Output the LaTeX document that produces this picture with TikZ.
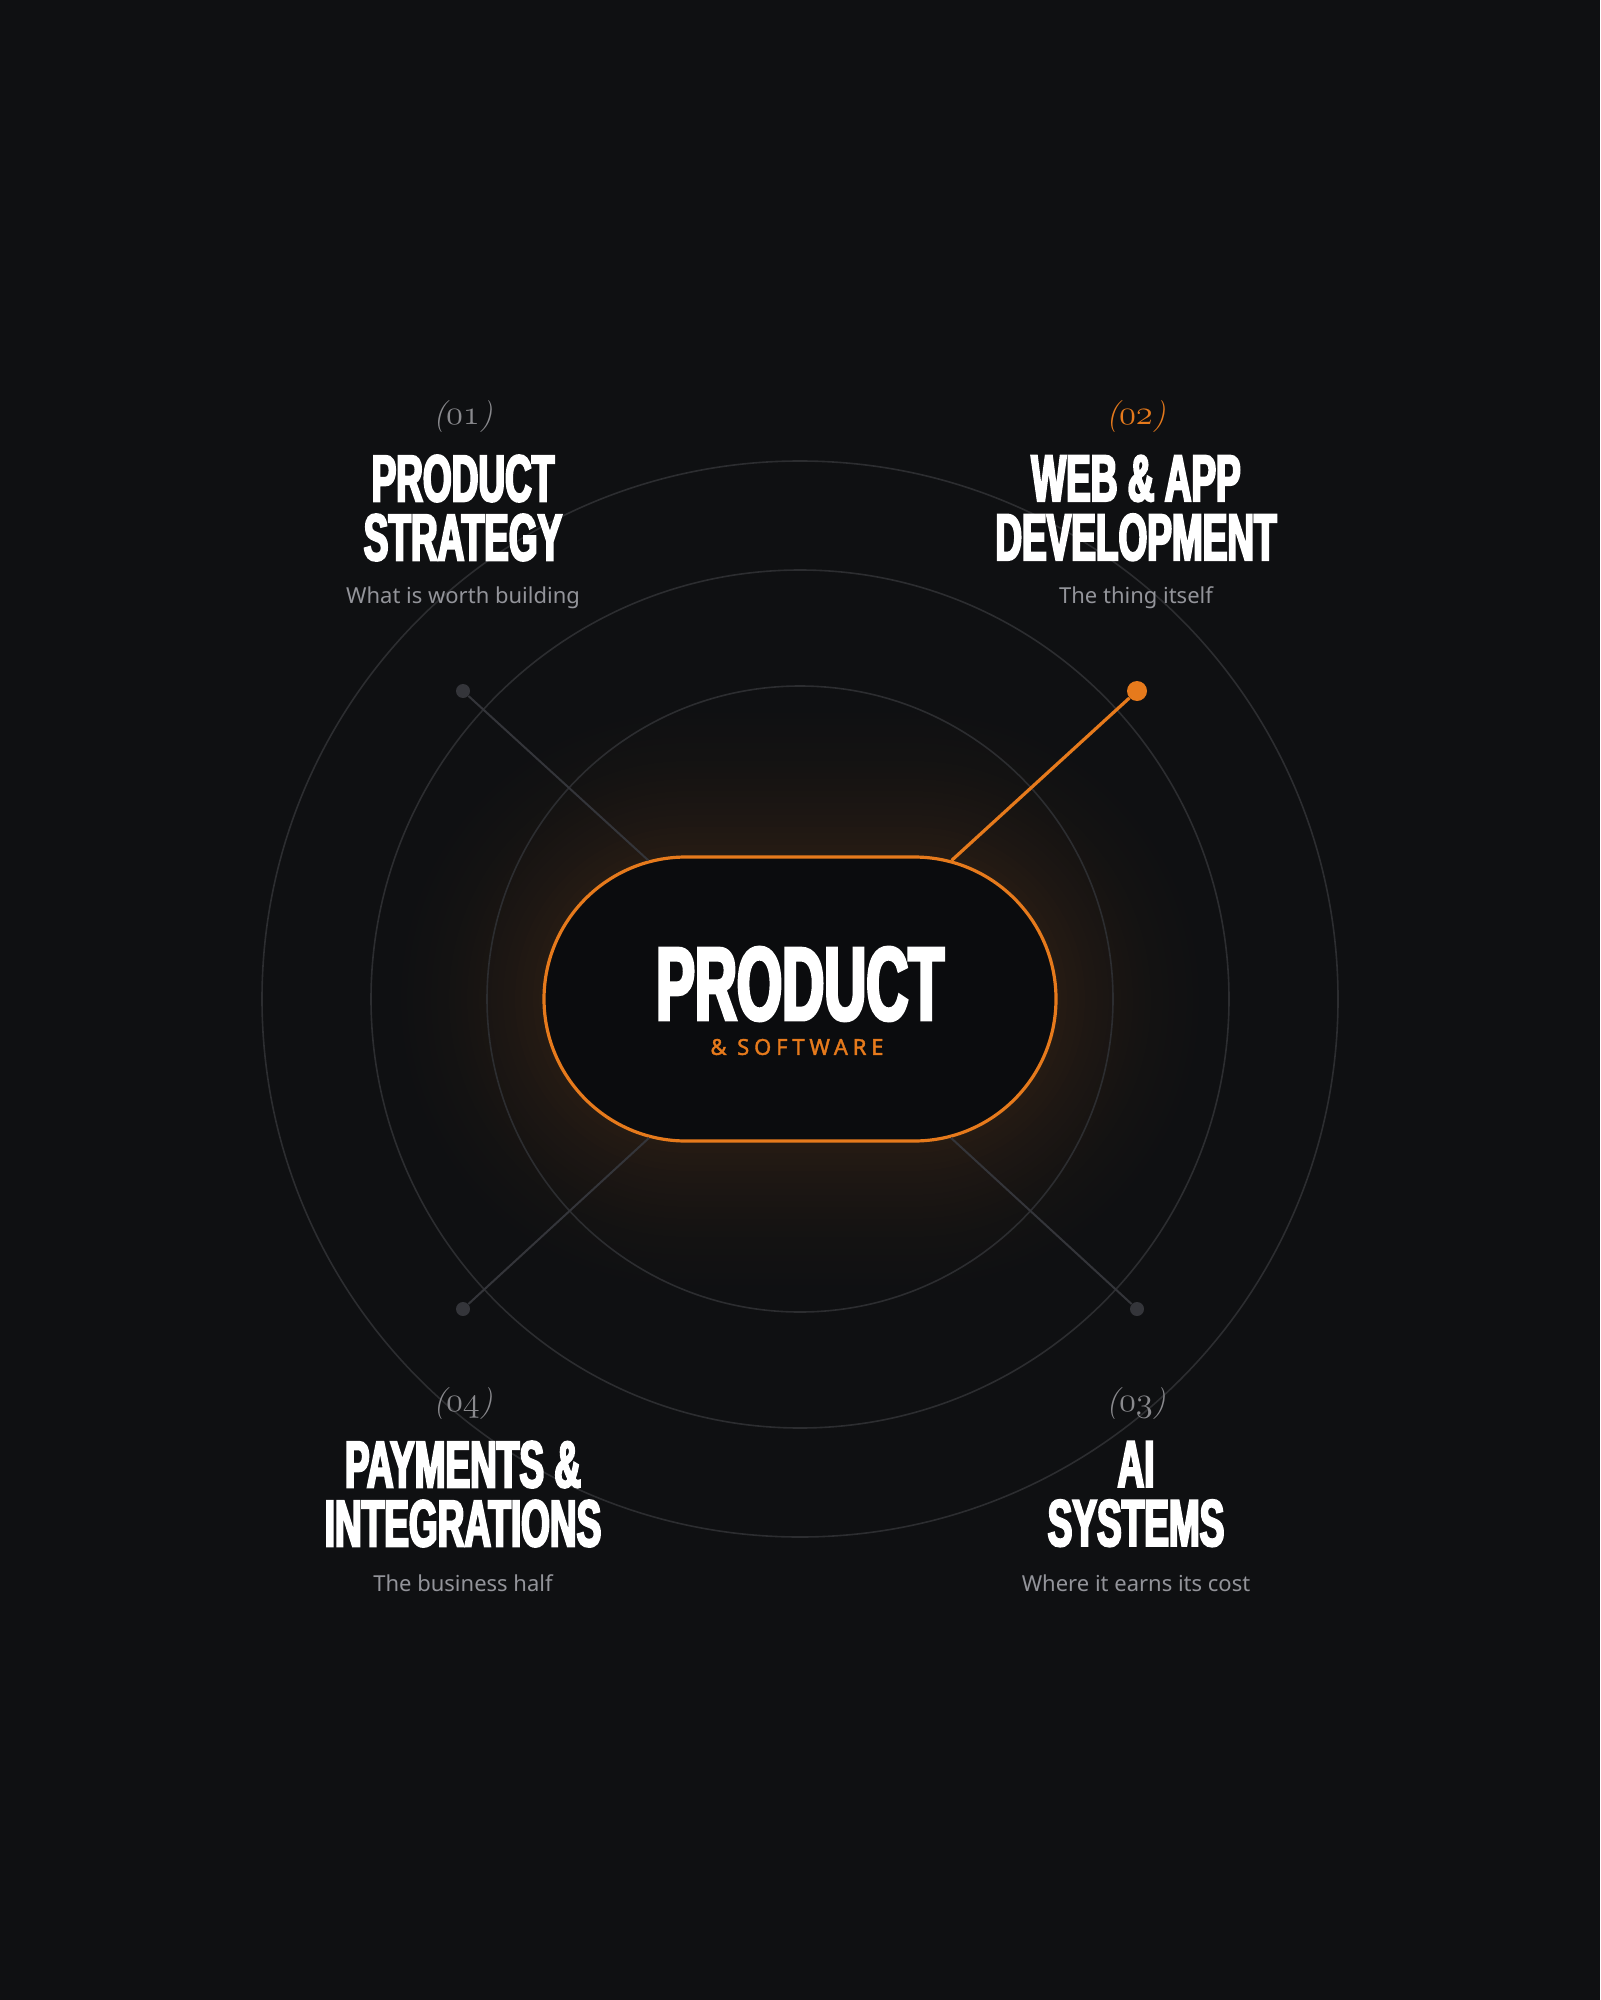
\documentclass[tikz,border=0pt]{standalone}
\usepackage{fontspec}
\usetikzlibrary{shapes.misc}
\newfontfamily\titlefontbase[FakeStretch=0.56,FakeBold=3.2]{Liberation Sans}
\newcommand\titlefont{\titlefontbase\bfseries}
\newfontfamily\subfont{Noto Sans}
\newfontfamily\spacedfont[LetterSpace=22,FakeBold=1.6]{Noto Sans}
\newcommand\oldnum[1]{{\fontencoding{OML}\fontfamily{cmm}\fontseries{m}\fontshape{it}\selectfont #1}}
\definecolor{bg}{HTML}{0F1012}
\definecolor{pillfill}{HTML}{0B0C0E}
\definecolor{orng}{HTML}{E67A1C}
\definecolor{ringc}{HTML}{2C2D30}
\definecolor{spokec}{HTML}{34353A}
\definecolor{dotc}{HTML}{34353A}
\definecolor{numc}{HTML}{8A8A8E}
\definecolor{subc}{HTML}{93949A}
\tikzset{
  ring/.style={draw=ringc, line width=0.8pt},
  spoke/.style={draw=spokec, line width=1pt},
  hotspoke/.style={draw=orng, line width=1.6pt},
  dotg/.style={circle, fill=dotc, inner sep=0pt, minimum size=7pt},
  doto/.style={circle, fill=orng, inner sep=0pt, minimum size=10pt},
  numlab/.style={font=\fontsize{16}{16}\selectfont\itshape, text=numc, inner sep=0pt},
  numhot/.style={numlab, text=orng},
  title/.style={font=\titlefont\fontsize{33}{29.5}\selectfont, text=white, align=center, inner sep=0pt},
  sublab/.style={font=\subfont\fontsize{11}{11}\selectfont, text=subc, inner sep=0pt},
  pill/.style={rounded rectangle, draw=orng, line width=1.6pt, fill=pillfill,
               minimum width=256pt, minimum height=142pt, inner sep=0pt}
}
\begin{document}
\begin{tikzpicture}[x=0.5pt,y=-0.5pt]
\fill[bg] (0,0) rectangle (1600,2000);
\useasboundingbox (0,0) rectangle (1600,2000);
% glow (pill shaped, fading outward)
\foreach \i in {28,27,...,1}{
  \pgfmathsetmacro{\pct}{11*(1-\i/28)^1.8}
  \fill[orng!\pct!bg, rounded corners={(142+\i*6)*0.5pt}]
    ({800-255-\i*6},{999-142-\i*6}) rectangle ({800+255+\i*6},{999+142+\i*6});
}
% rings
\coordinate (c) at (800,999);
\draw[ring] (c) circle[radius=313];
\draw[ring] (c) circle[radius=429];
\draw[ring] (c) circle[radius=538];
% hub
\node[pill] (hub) at (800,999) {};
\node[title, font=\titlefont\fontsize{52}{52}\selectfont] (hubt) at (800,984) {PRODUCT};
\node[font=\spacedfont\fontsize{11}{11}\selectfont, text=orng, inner sep=0pt] (hubs) at (797,1047) {\&~SOFTWARE};
% dots
\node[dotg] (d1) at (463,691) {};
\node[doto] (d2) at (1137,691) {};
\node[dotg] (d3) at (1137,1309) {};
\node[dotg] (d4) at (463,1309) {};
\draw[spoke] (d1) -- (hub);
\draw[hotspoke] (d2) -- (hub);
\draw[spoke] (d3) -- (hub);
\draw[spoke] (d4) -- (hub);
% item 1
\node[numlab] (n1) at (463,417) {(\oldnum{01})};
\node[title] (t1) at (463,508) {PRODUCT\\STRATEGY};
\node[sublab] (s1) at (463,598) {What is worth building};
% item 2
\node[numhot] (n2) at (1136,417) {(\oldnum{02})};
\node[title] (t2) at (1136,508) {WEB \& APP\\DEVELOPMENT};
\node[sublab] (s2) at (1136,598) {The thing itself};
% item 4
\node[numlab] (n4) at (463,1404) {(\oldnum{04})};
\node[title] (t4) at (463,1494) {PAYMENTS \&\\INTEGRATIONS};
\node[sublab] (s4) at (463,1583) {The business half};
% item 3
\node[numlab] (n3) at (1136,1404) {(\oldnum{03})};
\node[title] (t3) at (1136,1494) {AI\\SYSTEMS};
\node[sublab] (s3) at (1136,1583) {Where it earns its cost};
\end{tikzpicture}
\end{document}
